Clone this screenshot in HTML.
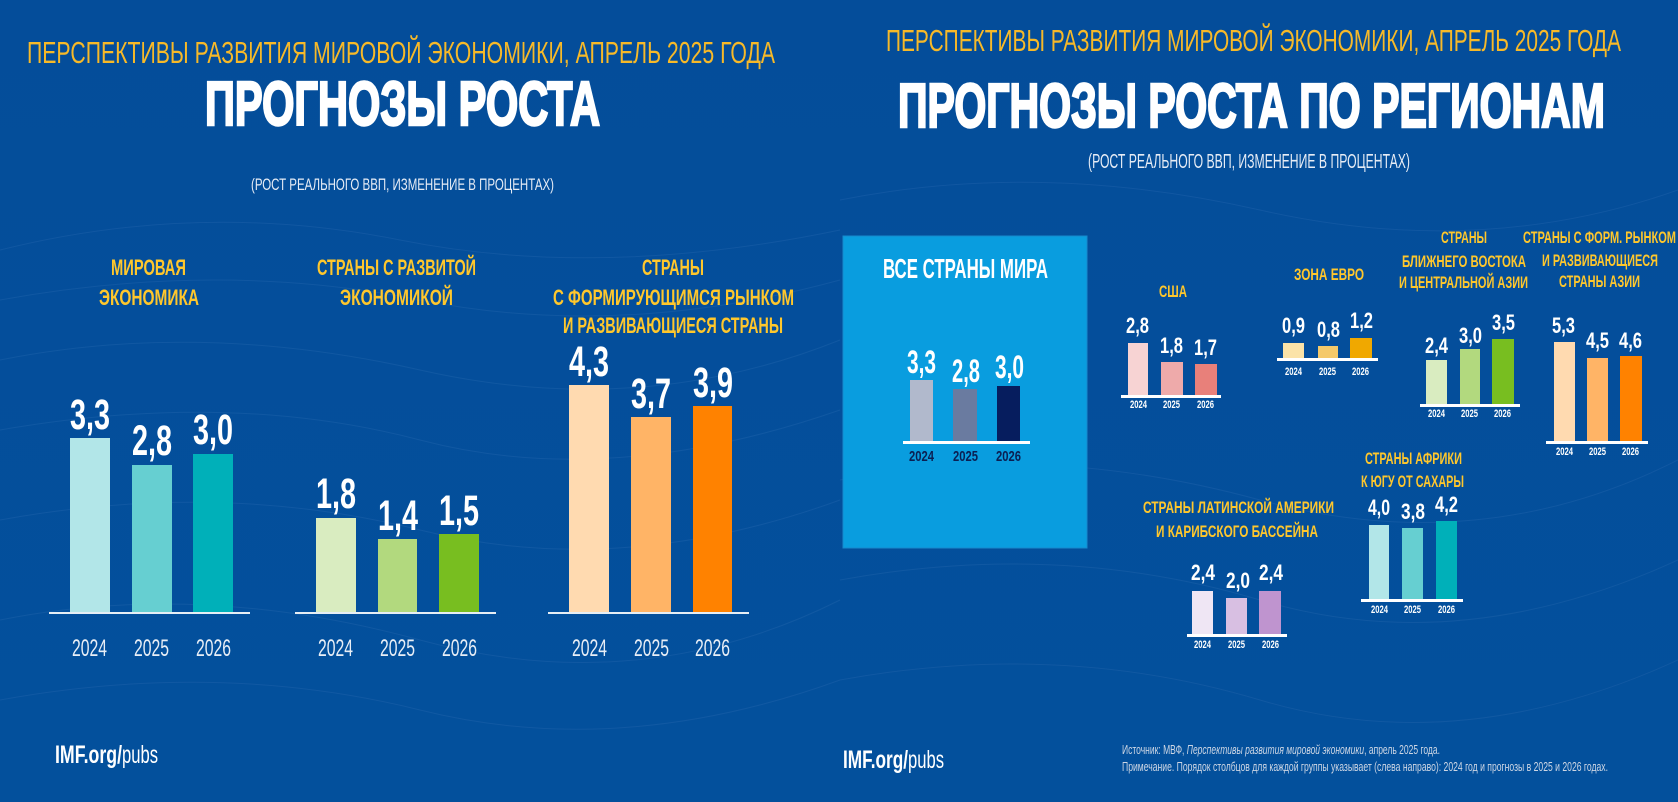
<!DOCTYPE html>
<html><head><meta charset="utf-8"><style>
html,body{margin:0;padding:0;background:#044d9b;}
svg{display:block;}
text{font-family:"Liberation Sans","DejaVu Sans",sans-serif;}
.y{fill:#ffc72c;font-weight:bold;}
.v{fill:#fff;font-weight:bold;}
.yr{fill:#e8eef6;}
.yb{fill:#fff;font-weight:bold;}
</style></head><body>
<svg width="1678" height="802" viewBox="0 0 1678 802" xmlns="http://www.w3.org/2000/svg">
<defs>
<linearGradient id="bgL" x1="0" y1="0" x2="0" y2="1"><stop offset="0" stop-color="#044d9a"/><stop offset="1" stop-color="#03509c"/></linearGradient>
</defs>
<rect x="0" y="0" width="1678" height="802" fill="url(#bgL)"/>
<!-- faint mesh texture -->
<g stroke="#2a6ab0" stroke-width="1" fill="none" opacity="0.35">
<path d="M0 250 Q200 200 400 240 T840 230"/><path d="M0 300 Q220 260 420 300 T840 280"/>
<path d="M0 360 Q200 320 420 370 T840 340"/><path d="M0 430 Q230 390 420 440 T840 410"/>
<path d="M0 520 Q220 480 420 530 T840 500"/><path d="M0 620 Q200 580 420 640 T840 600"/>
<path d="M0 700 Q220 660 420 710 T840 680"/>
<path d="M840 200 Q1040 160 1260 210 T1678 190"/><path d="M840 480 Q1040 440 1260 500 T1678 460"/>
<path d="M840 580 Q1060 540 1260 600 T1678 560"/><path d="M840 680 Q1060 640 1260 700 T1678 660"/>
</g>

<!-- LEFT PANEL -->
<text x="27" y="63" font-size="31" fill="#f7b928" textLength="748" lengthAdjust="spacingAndGlyphs">ПЕРСПЕКТИВЫ РАЗВИТИЯ МИРОВОЙ ЭКОНОМИКИ, АПРЕЛЬ 2025 ГОДА</text>
<text x="205" y="125" font-size="62" font-weight="bold" fill="#fff" stroke="#fff" stroke-width="2.5" textLength="395" lengthAdjust="spacingAndGlyphs">ПРОГНОЗЫ РОСТА</text>
<text x="251" y="190" font-size="17" fill="#e6ecf5" textLength="303" lengthAdjust="spacingAndGlyphs">(РОСТ РЕАЛЬНОГО ВВП, ИЗМЕНЕНИЕ В ПРОЦЕНТАХ)</text>

<text class="y" x="111" y="275" font-size="22" textLength="75" lengthAdjust="spacingAndGlyphs">МИРОВАЯ</text>
<text class="y" x="99" y="305" font-size="22" textLength="100" lengthAdjust="spacingAndGlyphs">ЭКОНОМИКА</text>
<text class="y" x="317" y="275" font-size="22" textLength="159" lengthAdjust="spacingAndGlyphs">СТРАНЫ С РАЗВИТОЙ</text>
<text class="y" x="340" y="305" font-size="22" textLength="113" lengthAdjust="spacingAndGlyphs">ЭКОНОМИКОЙ</text>
<text class="y" x="642" y="275" font-size="22" textLength="62" lengthAdjust="spacingAndGlyphs">СТРАНЫ</text>
<text class="y" x="553" y="305" font-size="22" textLength="241" lengthAdjust="spacingAndGlyphs">С ФОРМИРУЮЩИМСЯ РЫНКОМ</text>
<text class="y" x="563" y="333" font-size="22" textLength="220" lengthAdjust="spacingAndGlyphs">И РАЗВИВАЮЩИЕСЯ СТРАНЫ</text>

<!-- group 1 -->
<rect x="70" y="438" width="40" height="175" fill="#b2e6e8"/>
<rect x="132" y="465" width="40" height="148" fill="#66cfd1"/>
<rect x="193" y="454" width="40" height="159" fill="#00b0b9"/>
<rect x="49" y="612" width="201" height="2" fill="#e6eef5"/>
<text class="v" x="70" y="429" font-size="43" textLength="40" lengthAdjust="spacingAndGlyphs">3,3</text>
<text class="v" x="132" y="455" font-size="43" textLength="40" lengthAdjust="spacingAndGlyphs">2,8</text>
<text class="v" x="193" y="444" font-size="43" textLength="40" lengthAdjust="spacingAndGlyphs">3,0</text>
<text class="yr" x="72" y="656" font-size="24" textLength="35" lengthAdjust="spacingAndGlyphs">2024</text>
<text class="yr" x="134" y="656" font-size="24" textLength="35" lengthAdjust="spacingAndGlyphs">2025</text>
<text class="yr" x="196" y="656" font-size="24" textLength="35" lengthAdjust="spacingAndGlyphs">2026</text>

<!-- group 2 -->
<rect x="316" y="518" width="40" height="95" fill="#d9ecc0"/>
<rect x="378" y="539" width="39" height="74" fill="#b2d97e"/>
<rect x="439" y="534" width="40" height="79" fill="#78be20"/>
<rect x="295" y="612" width="201" height="2" fill="#e6eef5"/>
<text class="v" x="316" y="508" font-size="43" textLength="40" lengthAdjust="spacingAndGlyphs">1,8</text>
<text class="v" x="378" y="530" font-size="43" textLength="40" lengthAdjust="spacingAndGlyphs">1,4</text>
<text class="v" x="439" y="525" font-size="43" textLength="40" lengthAdjust="spacingAndGlyphs">1,5</text>
<text class="yr" x="318" y="656" font-size="24" textLength="35" lengthAdjust="spacingAndGlyphs">2024</text>
<text class="yr" x="380" y="656" font-size="24" textLength="35" lengthAdjust="spacingAndGlyphs">2025</text>
<text class="yr" x="442" y="656" font-size="24" textLength="35" lengthAdjust="spacingAndGlyphs">2026</text>

<!-- group 3 -->
<rect x="569" y="385" width="40" height="228" fill="#ffdab0"/>
<rect x="631" y="417" width="40" height="196" fill="#ffb466"/>
<rect x="693" y="406" width="39" height="207" fill="#ff8200"/>
<rect x="548" y="612" width="201" height="2" fill="#e6eef5"/>
<text class="v" x="569" y="376" font-size="43" textLength="40" lengthAdjust="spacingAndGlyphs">4,3</text>
<text class="v" x="631" y="408" font-size="43" textLength="40" lengthAdjust="spacingAndGlyphs">3,7</text>
<text class="v" x="693" y="397" font-size="43" textLength="40" lengthAdjust="spacingAndGlyphs">3,9</text>
<text class="yr" x="572" y="656" font-size="24" textLength="35" lengthAdjust="spacingAndGlyphs">2024</text>
<text class="yr" x="634" y="656" font-size="24" textLength="35" lengthAdjust="spacingAndGlyphs">2025</text>
<text class="yr" x="695" y="656" font-size="24" textLength="35" lengthAdjust="spacingAndGlyphs">2026</text>

<text x="55" y="763" font-size="25" font-weight="bold" fill="#fff" textLength="67" lengthAdjust="spacingAndGlyphs">IMF.org/</text>
<text x="122" y="763" font-size="25" fill="#fff" textLength="36" lengthAdjust="spacingAndGlyphs">pubs</text>

<!-- RIGHT PANEL -->
<text x="886" y="51" font-size="31" fill="#f7b928" textLength="735" lengthAdjust="spacingAndGlyphs">ПЕРСПЕКТИВЫ РАЗВИТИЯ МИРОВОЙ ЭКОНОМИКИ, АПРЕЛЬ 2025 ГОДА</text>
<text x="898" y="127" font-size="62" font-weight="bold" fill="#fff" stroke="#fff" stroke-width="2.5" textLength="707" lengthAdjust="spacingAndGlyphs">ПРОГНОЗЫ РОСТА ПО РЕГИОНАМ</text>
<text x="1088" y="168" font-size="20" fill="#e6ecf5" textLength="322" lengthAdjust="spacingAndGlyphs">(РОСТ РЕАЛЬНОГО ВВП, ИЗМЕНЕНИЕ В ПРОЦЕНТАХ)</text>

<!-- world box -->
<rect x="843" y="236" width="244" height="312" fill="#099ddf" stroke="#1789cc" stroke-width="1"/>
<text x="883" y="278" font-size="28" font-weight="bold" fill="#fff" textLength="165" lengthAdjust="spacingAndGlyphs">ВСЕ СТРАНЫ МИРА</text>
<rect x="910" y="380" width="23" height="62" fill="#b1b9cc"/>
<rect x="953" y="389" width="24" height="53" fill="#6a7ba0"/>
<rect x="997" y="386" width="23" height="56" fill="#061d5e"/>
<rect x="903" y="441" width="127" height="3" fill="#fff"/>
<text class="v" x="907" y="373" font-size="32" textLength="29" lengthAdjust="spacingAndGlyphs">3,3</text>
<text class="v" x="952" y="382" font-size="32" textLength="28" lengthAdjust="spacingAndGlyphs">2,8</text>
<text class="v" x="995" y="378" font-size="32" textLength="29" lengthAdjust="spacingAndGlyphs">3,0</text>
<text x="909" y="461" font-size="15" font-weight="bold" fill="#0b1f52" textLength="25" lengthAdjust="spacingAndGlyphs">2024</text>
<text x="953" y="461" font-size="15" font-weight="bold" fill="#0b1f52" textLength="25" lengthAdjust="spacingAndGlyphs">2025</text>
<text x="996" y="461" font-size="15" font-weight="bold" fill="#0b1f52" textLength="25" lengthAdjust="spacingAndGlyphs">2026</text>

<!-- USA -->
<text class="y" x="1159" y="297" font-size="17" textLength="28" lengthAdjust="spacingAndGlyphs">США</text>
<rect x="1128" y="343" width="20" height="53" fill="#f7d3d3"/>
<rect x="1161" y="362" width="22" height="34" fill="#eeaaaa"/>
<rect x="1195" y="364" width="22" height="32" fill="#e8807a"/>
<rect x="1121" y="395" width="100" height="3" fill="#fff"/>
<text class="v" x="1126" y="333" font-size="22" textLength="23" lengthAdjust="spacingAndGlyphs">2,8</text>
<text class="v" x="1160" y="353" font-size="22" textLength="23" lengthAdjust="spacingAndGlyphs">1,8</text>
<text class="v" x="1194" y="355" font-size="22" textLength="23" lengthAdjust="spacingAndGlyphs">1,7</text>
<text class="yb" x="1130" y="408" font-size="11" textLength="17" lengthAdjust="spacingAndGlyphs">2024</text>
<text class="yb" x="1163" y="408" font-size="11" textLength="17" lengthAdjust="spacingAndGlyphs">2025</text>
<text class="yb" x="1197" y="408" font-size="11" textLength="17" lengthAdjust="spacingAndGlyphs">2026</text>

<!-- Euro -->
<text class="y" x="1294" y="280" font-size="17" textLength="70" lengthAdjust="spacingAndGlyphs">ЗОНА ЕВРО</text>
<rect x="1283" y="343" width="21" height="16" fill="#fbe3a8"/>
<rect x="1318" y="346" width="20" height="13" fill="#f5c96a"/>
<rect x="1350" y="338" width="22" height="21" fill="#f0a800"/>
<rect x="1277" y="358" width="101" height="3" fill="#fff"/>
<text class="v" x="1282" y="333" font-size="22" textLength="23" lengthAdjust="spacingAndGlyphs">0,9</text>
<text class="v" x="1317" y="337" font-size="22" textLength="23" lengthAdjust="spacingAndGlyphs">0,8</text>
<text class="v" x="1350" y="328" font-size="22" textLength="23" lengthAdjust="spacingAndGlyphs">1,2</text>
<text class="yb" x="1285" y="375" font-size="11" textLength="17" lengthAdjust="spacingAndGlyphs">2024</text>
<text class="yb" x="1319" y="375" font-size="11" textLength="17" lengthAdjust="spacingAndGlyphs">2025</text>
<text class="yb" x="1352" y="375" font-size="11" textLength="17" lengthAdjust="spacingAndGlyphs">2026</text>

<!-- Middle East -->
<text class="y" x="1441" y="243" font-size="17" textLength="46" lengthAdjust="spacingAndGlyphs">СТРАНЫ</text>
<text class="y" x="1402" y="267" font-size="17" textLength="124" lengthAdjust="spacingAndGlyphs">БЛИЖНЕГО ВОСТОКА</text>
<text class="y" x="1399" y="288" font-size="17" textLength="129" lengthAdjust="spacingAndGlyphs">И ЦЕНТРАЛЬНОЙ АЗИИ</text>
<rect x="1426" y="360" width="21" height="45" fill="#d9ecc0"/>
<rect x="1460" y="349" width="20" height="56" fill="#b2d97e"/>
<rect x="1492" y="339" width="22" height="66" fill="#78be20"/>
<rect x="1420" y="404" width="100" height="3" fill="#fff"/>
<text class="v" x="1425" y="353" font-size="22" textLength="23" lengthAdjust="spacingAndGlyphs">2,4</text>
<text class="v" x="1459" y="343" font-size="22" textLength="23" lengthAdjust="spacingAndGlyphs">3,0</text>
<text class="v" x="1492" y="330" font-size="22" textLength="23" lengthAdjust="spacingAndGlyphs">3,5</text>
<text class="yb" x="1428" y="417" font-size="11" textLength="17" lengthAdjust="spacingAndGlyphs">2024</text>
<text class="yb" x="1461" y="417" font-size="11" textLength="17" lengthAdjust="spacingAndGlyphs">2025</text>
<text class="yb" x="1494" y="417" font-size="11" textLength="17" lengthAdjust="spacingAndGlyphs">2026</text>

<!-- Asia -->
<text class="y" x="1523" y="243" font-size="17" textLength="153" lengthAdjust="spacingAndGlyphs">СТРАНЫ С ФОРМ. РЫНКОМ</text>
<text class="y" x="1542" y="266" font-size="17" textLength="116" lengthAdjust="spacingAndGlyphs">И РАЗВИВАЮЩИЕСЯ</text>
<text class="y" x="1559" y="287" font-size="17" textLength="81" lengthAdjust="spacingAndGlyphs">СТРАНЫ АЗИИ</text>
<rect x="1554" y="342" width="21" height="100" fill="#ffdab0"/>
<rect x="1587" y="358" width="21" height="84" fill="#ffb466"/>
<rect x="1620" y="356" width="22" height="86" fill="#ff8200"/>
<rect x="1546" y="441" width="102" height="3" fill="#fff"/>
<text class="v" x="1552" y="333" font-size="22" textLength="23" lengthAdjust="spacingAndGlyphs">5,3</text>
<text class="v" x="1586" y="348" font-size="22" textLength="23" lengthAdjust="spacingAndGlyphs">4,5</text>
<text class="v" x="1619" y="348" font-size="22" textLength="23" lengthAdjust="spacingAndGlyphs">4,6</text>
<text class="yb" x="1556" y="455" font-size="11" textLength="17" lengthAdjust="spacingAndGlyphs">2024</text>
<text class="yb" x="1589" y="455" font-size="11" textLength="17" lengthAdjust="spacingAndGlyphs">2025</text>
<text class="yb" x="1622" y="455" font-size="11" textLength="17" lengthAdjust="spacingAndGlyphs">2026</text>

<!-- Latin America -->
<text class="y" x="1143" y="513" font-size="17" textLength="191" lengthAdjust="spacingAndGlyphs">СТРАНЫ ЛАТИНСКОЙ АМЕРИКИ</text>
<text class="y" x="1156" y="537" font-size="17" textLength="162" lengthAdjust="spacingAndGlyphs">И КАРИБСКОГО БАССЕЙНА</text>
<rect x="1192" y="591" width="21" height="44" fill="#efe6f4"/>
<rect x="1226" y="598" width="21" height="37" fill="#d8bfe2"/>
<rect x="1259" y="591" width="22" height="44" fill="#bf94cf"/>
<rect x="1187" y="634" width="100" height="3" fill="#fff"/>
<text class="v" x="1191" y="580" font-size="22" textLength="24" lengthAdjust="spacingAndGlyphs">2,4</text>
<text class="v" x="1226" y="588" font-size="22" textLength="24" lengthAdjust="spacingAndGlyphs">2,0</text>
<text class="v" x="1259" y="580" font-size="22" textLength="24" lengthAdjust="spacingAndGlyphs">2,4</text>
<text class="yb" x="1194" y="648" font-size="11" textLength="17" lengthAdjust="spacingAndGlyphs">2024</text>
<text class="yb" x="1228" y="648" font-size="11" textLength="17" lengthAdjust="spacingAndGlyphs">2025</text>
<text class="yb" x="1262" y="648" font-size="11" textLength="17" lengthAdjust="spacingAndGlyphs">2026</text>

<!-- Africa -->
<text class="y" x="1365" y="464" font-size="17" textLength="97" lengthAdjust="spacingAndGlyphs">СТРАНЫ АФРИКИ</text>
<text class="y" x="1361" y="487" font-size="17" textLength="103" lengthAdjust="spacingAndGlyphs">К ЮГУ ОТ САХАРЫ</text>
<rect x="1369" y="525" width="20" height="75" fill="#b2e6e8"/>
<rect x="1402" y="528" width="21" height="72" fill="#66cfd1"/>
<rect x="1436" y="521" width="21" height="79" fill="#00b0b9"/>
<rect x="1361" y="599" width="102" height="3" fill="#fff"/>
<text class="v" x="1368" y="515" font-size="22" textLength="22" lengthAdjust="spacingAndGlyphs">4,0</text>
<text class="v" x="1401" y="519" font-size="22" textLength="24" lengthAdjust="spacingAndGlyphs">3,8</text>
<text class="v" x="1435" y="512" font-size="22" textLength="23" lengthAdjust="spacingAndGlyphs">4,2</text>
<text class="yb" x="1371" y="613" font-size="11" textLength="17" lengthAdjust="spacingAndGlyphs">2024</text>
<text class="yb" x="1404" y="613" font-size="11" textLength="17" lengthAdjust="spacingAndGlyphs">2025</text>
<text class="yb" x="1438" y="613" font-size="11" textLength="17" lengthAdjust="spacingAndGlyphs">2026</text>

<!-- footer right -->
<text x="843" y="768" font-size="25" font-weight="bold" fill="#fff" textLength="65" lengthAdjust="spacingAndGlyphs">IMF.org/</text>
<text x="908" y="768" font-size="25" fill="#fff" textLength="36" lengthAdjust="spacingAndGlyphs">pubs</text>
<text x="1122" y="754" font-size="12.5" fill="#cdd6e4" textLength="318" lengthAdjust="spacingAndGlyphs">Источник: МВФ, <tspan font-style="italic">Перспективы развития мировой экономики</tspan>, апрель 2025 года.</text>
<text x="1122" y="771" font-size="12.5" fill="#cdd6e4" textLength="486" lengthAdjust="spacingAndGlyphs">Примечание. Порядок столбцов для каждой группы указывает (слева направо): 2024 год и прогнозы в 2025 и 2026 годах.</text>
</svg>
</body></html>
